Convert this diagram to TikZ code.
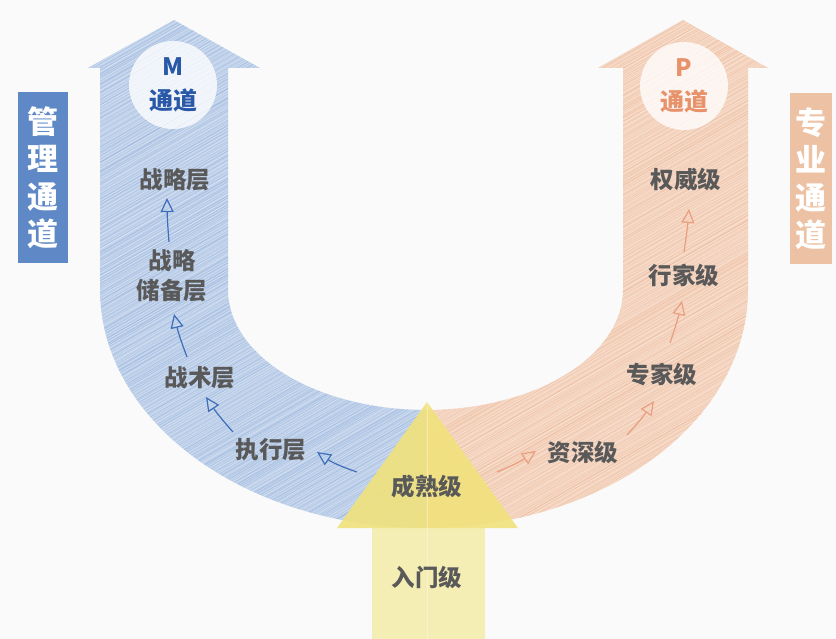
\documentclass[tikz,border=0pt]{standalone}
\usepackage{fontspec}
\newfontfamily\cjk{Noto Sans CJK SC}
\usetikzlibrary{arrows.meta}
\definecolor{bgc}{HTML}{FAFAFA}
\definecolor{bluebase}{HTML}{C2D3EB}
\definecolor{bluestroke}{HTML}{8EAEDB}
\definecolor{orbase}{HTML}{F5D6C2}
\definecolor{orstroke}{HTML}{EDB593}
\definecolor{yeltri}{HTML}{F1E27C}
\definecolor{yelshaft}{HTML}{F5EEB4}
\definecolor{labelgray}{HTML}{595959}
\definecolor{mblue}{HTML}{2958A8}
\definecolor{porange}{HTML}{E8926B}
\definecolor{boxblue}{HTML}{5F89C6}
\definecolor{boxorange}{HTML}{EDC2A4}
\definecolor{arrblue}{HTML}{3E6DB9}
\definecolor{arrorange}{HTML}{EA9E7E}
\tikzset{
  lbl/.style={font=\cjk\bfseries\fontsize{23.5}{30}\selectfont, text=labelgray, inner sep=1pt, align=center},
  badge/.style={circle, fill=white, fill opacity=.78, minimum size=88pt, inner sep=0pt},
  badgetext/.style={font=\cjk\bfseries\fontsize{24}{34}\selectfont, align=center, inner sep=0pt},
  sidebox/.style={minimum height=171pt, inner sep=0pt, font=\cjk\bfseries\fontsize{31}{37.5}\selectfont, text=white, align=center},
  barrow/.style={draw=arrblue, line width=1.2pt, -{Triangle[open,length=14pt,width=13pt,line width=1.2pt]}},
  oarrow/.style={draw=arrorange, line width=1.2pt, -{Triangle[open,length=14pt,width=13pt,line width=1.2pt]}},
}
\begin{document}
\begin{tikzpicture}[x=1pt,y=-1pt]
\useasboundingbox (0,0) rectangle (836,639);
\fill[bgc] (0,0) rectangle (836,639);
\pgfmathsetseed{7}
% blue U half
\begin{scope}
\clip (426,410) -- (426,528) -- plot[domain=90:180,samples=40] ({426+326*cos(\x)},{290+238*sin(\x)}) -- (100,68) -- (88,68) -- (174,20) -- (260,68) -- (228,68) -- (228,290) -- plot[domain=180:90,samples=40] ({426+198*cos(\x)},{290+120*sin(\x)}) -- cycle;
\fill[bluebase] (0,0) rectangle (440,560);
\foreach \i in {-250,...,112} {
  \pgfmathsetmacro{\op}{0.1+0.35*rnd}
  \pgfmathsetmacro{\dx}{4*rnd}
  \draw[bluestroke, opacity=\op, line width=1.3pt] (\i*4+\dx, 640) -- ++(1110,-640);
  \draw[white, opacity=.35, line width=.5pt] (\i*4+2+\dx, 640) -- ++(1110,-640);
}
\end{scope}
% orange U half
\begin{scope}
\clip (426,410) -- (426,528) -- plot[domain=90:0,samples=40] ({426+322*cos(\x)},{290+238*sin(\x)}) -- (748,68) -- (768,68) -- (683,20) -- (598,68) -- (623,68) -- (623,290) -- plot[domain=0:90,samples=40] ({426+197*cos(\x)},{290+120*sin(\x)}) -- cycle;
\fill[orbase] (410,0) rectangle (836,560);
\foreach \i in {-122,...,212} {
  \pgfmathsetmacro{\op}{0.1+0.35*rnd}
  \pgfmathsetmacro{\dx}{4*rnd}
  \draw[orstroke, opacity=\op, line width=1.3pt] (\i*4+\dx, 640) -- ++(1110,-640);
  \draw[white, opacity=.35, line width=.5pt] (\i*4+2+\dx, 640) -- ++(1110,-640);
}
\end{scope}
% yellow arrow
\fill[yelshaft] (372,528) rectangle (485,639);
\fill[yeltri, opacity=.9] (427,402) -- (518,528) -- (337,528) -- cycle;
\draw[white, opacity=.35, line width=.6pt] (427,402) -- (427,639);
% badges
\node[badge] (mc) at (173,85) {};
\node[badgetext, text=mblue] (mt) at (173,85) {M\\通道};
\node[badge] (pc) at (684,86) {};
\node[badgetext, text=porange] (pt) at (684,86) {P\\通道};
% side boxes
\node[sidebox, fill=boxblue, minimum width=50pt] (lbox) at (43,178) {管\\理\\通\\道};
\node[sidebox, fill=boxorange, minimum width=42pt] (rbox) at (811,179) {专\\业\\通\\道};
% labels
\node[lbl] (zl) at (175,180) {战略层};
\node[lbl] (zb) at (172,276) {战略\\储备层};
\node[lbl] (zs) at (200,378) {战术层};
\node[lbl] (zx) at (271,450) {执行层};
\node[lbl] (cs) at (427,487) {成熟级};
\node[lbl] (rm) at (427,577) {入门级};
\node[lbl] (zsj) at (583,452) {资深级};
\node[lbl] (zj) at (662,375) {专家级};
\node[lbl] (hj) at (684,275) {行家级};
\node[lbl] (qw) at (686,180) {权威级};
% arrow ends
\coordinate (b1s) at (357,472); \coordinate (b1e) at (317,452);
\coordinate (b2s) at (233,432); \coordinate (b2e) at (206,397);
\coordinate (b3s) at (187,357); \coordinate (b3e) at (174,314);
\coordinate (b4s) at (169,242); \coordinate (b4e) at (167,198);
\coordinate (o1s) at (497,472); \coordinate (o1e) at (536,451);
\coordinate (o2s) at (627,435); \coordinate (o2e) at (654,401);
\coordinate (o3s) at (670,343); \coordinate (o3e) at (682,301);
\coordinate (o4s) at (684,252); \coordinate (o4e) at (689,209);
\draw[barrow] (b1s) to[bend left=8] (b1e);
\draw[barrow] (b2s) to[bend left=4] (b2e);
\draw[barrow] (b3s) to[bend left=4] (b3e);
\draw[barrow] (b4s) to[bend left=2] (b4e);
\draw[oarrow] (o1s) to[bend right=6] (o1e);
\draw[oarrow] (o2s) to[bend right=4] (o2e);
\draw[oarrow] (o3s) to[bend right=3] (o3e);
\draw[oarrow] (o4s) to[bend right=2] (o4e);
\end{tikzpicture}
\end{document}
